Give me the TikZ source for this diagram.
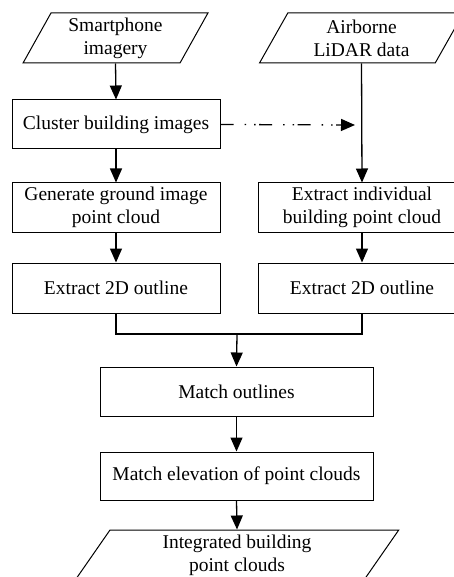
\documentclass[tikz,border=0pt]{standalone}
\usepackage{fontspec}
\setmainfont{Liberation Serif}
\usetikzlibrary{arrows.meta,shapes.geometric}
\begin{document}
\begin{tikzpicture}[x=1pt,y=1pt,
  every node/.style={font=\fontsize{19.5}{23}\selectfont, align=center, inner sep=0pt},
  procbox/.style={draw, line width=1pt, rectangle, minimum width=208pt, minimum height=49pt},
  widebox/.style={procbox, minimum width=273pt},
  iobox/.style={draw, line width=1pt, trapezium, trapezium left angle=63.4, trapezium right angle=116.6,
    trapezium stretches=true, minimum height=50pt},
  tip/.style={-{Triangle[length=14pt,width=12pt]}},
  flow/.style={line width=1.3pt, tip},
  dashdot/.style={line width=1.3pt, dash pattern=on 13pt off 11pt on 1.5pt off 8pt on 1.5pt off 3.5pt, tip}
]
\useasboundingbox (0,0) rectangle (454,-577);
\clip (0,0) rectangle (454,-577);
\fill[white] (0,0) rectangle (454,-577);

\node[iobox, minimum width=185pt] (p1) at (115.5,-38) {Smartphone\\imagery};
\node[iobox, minimum width=204pt] (p2) at (361.5,-38) {Airborne\\LiDAR data};

\node[procbox] (cluster) at (116,-124.5) {Cluster building images};
\node[procbox] (gen) at (116,-207.5) {Generate ground image\\point cloud};
\node[procbox, minimum height=50pt] (extL) at (116,-288) {Extract 2D outline};

\node[procbox] (indiv) at (362,-207.5) {Extract individual\\building point cloud};
\node[procbox, minimum height=50pt] (extR) at (362,-288) {Extract 2D outline};

\node[widebox] (match) at (236.5,-391.5) {Match outlines};
\node[widebox, minimum height=48pt] (elev) at (236.5,-476) {Match elevation of point clouds};
\node[iobox, minimum width=324pt] (integ) at (237,-555) {Integrated building\\point clouds};

\coordinate (ddend) at (355,-125);
\coordinate (merge) at (237,-334);

\draw[flow] (p1.south) -- (cluster.north);
\draw[flow] (cluster.south) -- (gen.north);
\draw[flow] (gen.south) -- (extL.north);
\draw[flow] (p2.south) -- (indiv.north);
\draw[flow] (indiv.south) -- (extR.north);
\draw[dashdot] (cluster.east) -- (ddend);
\draw[line width=1.3pt] (extL.south) |- (merge) -| (extR.south);
\draw[flow] (merge) -- (match.north);
\draw[flow] (match.south) -- (elev.north);
\draw[flow] (elev.south) -- (integ.north);
\end{tikzpicture}
\end{document}
